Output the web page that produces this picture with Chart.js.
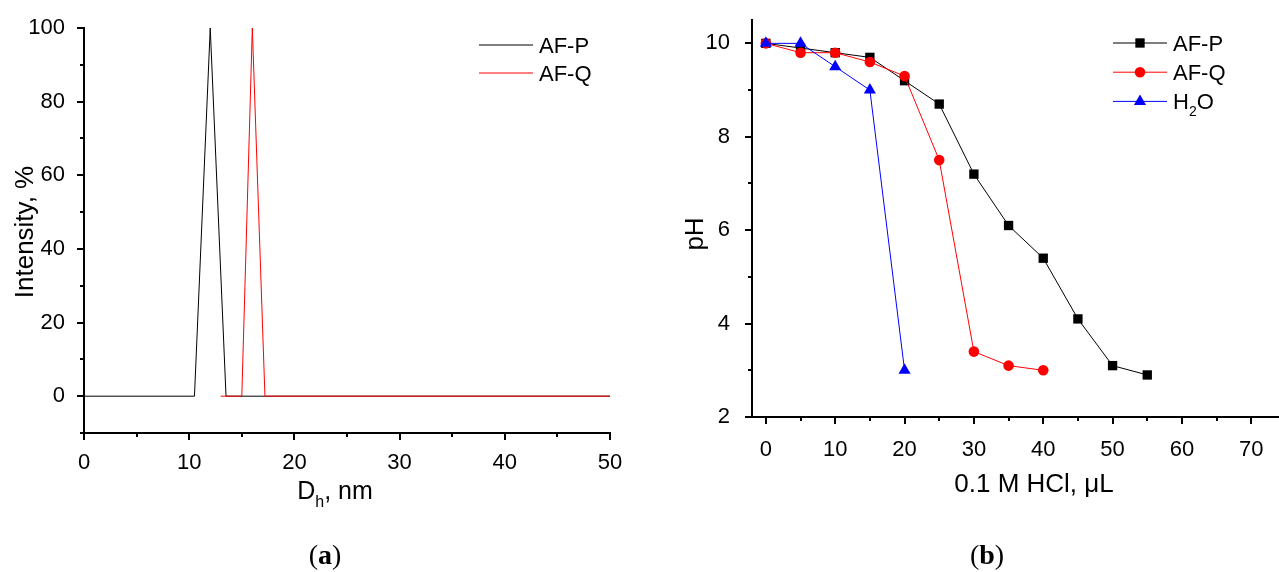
<!DOCTYPE html>
<html lang="en">
<head>
  <meta charset="UTF-8">
  <title>DLS and titration</title>
  <script src="https://cdn.jsdelivr.net/npm/chart.js"></script>
  <style>
    body { margin: 0; background: #fff; overflow: hidden; }
    canvas { position: absolute; top: 0; }
    #sizeChart { left: 0; }
    #phChart { left: 640px; }
  </style>
</head>
<body>
  <canvas id="sizeChart" width="640" height="572"></canvas>
  <canvas id="phChart" width="639" height="572"></canvas>

  <script>
    // (a) size distribution, D_h in nm vs intensity %
    const sizeAFP_x = [0, 10.5, 12, 13.5, 50];
    const sizeAFP_y = [0, 0, 100, 0, 0];
    const sizeAFQ_x = [13, 15, 16, 17.2, 50];
    const sizeAFQ_y = [0, 0, 100, 0, 0];
    const sizeXTicks = [0, 5, 10, 15, 20, 25, 30, 35, 40, 45, 50];
    const sizeYTicks = [-10, 0, 10, 20, 30, 40, 50, 60, 70, 80, 90, 100];

    // (b) titration with 0.1 M HCl
    const volAFP = [0, 5, 10, 15, 20, 25, 30, 35, 40, 45, 50, 55];
    const phAFP = [10.0, 9.9, 9.8, 9.7, 9.2, 8.7, 7.2, 6.1, 5.4, 4.1, 3.1, 2.9];
    const volAFQ = [0, 5, 10, 15, 20, 25, 30, 35, 40];
    const phAFQ = [10.0, 9.8, 9.8, 9.6, 9.3, 7.5, 3.4, 3.1, 3.0];
    const volH2O = [0, 5, 10, 15, 20];
    const phH2O = [10.0, 10.0, 9.5, 9.0, 3.0];
    const phXTicks = [0, 5, 10, 15, 20, 25, 30, 35, 40, 45, 50, 55, 60, 65, 70];
    const phYTicks = [2, 3, 4, 5, 6, 7, 8, 9, 10];

    const FONT = "'Liberation Sans', Arial, sans-serif";
    const toXY = (xs, ys) => xs.map((x, i) => ({ x: x, y: ys[i] }));

    // draw text made of parts, some of them subscript
    function drawParts(ctx, parts, x, y, size, align) {
      let total = 0;
      parts.forEach(p => {
        ctx.font = (p.sub ? Math.round(size * 0.65) : size) + 'px ' + FONT;
        total += ctx.measureText(p.t).width;
      });
      let cx = align === 'center' ? x - total / 2 : x;
      parts.forEach(p => {
        ctx.font = (p.sub ? Math.round(size * 0.65) : size) + 'px ' + FONT;
        ctx.fillText(p.t, cx, p.sub ? y + size * 0.3 : y);
        cx += ctx.measureText(p.t).width;
      });
    }

    // major ticks long, minor ticks short, both outside the axes
    const tickMarks = {
      id: 'tickMarks',
      afterDraw(chart) {
        const ctx = chart.ctx, a = chart.chartArea;
        const xs = chart.scales.x, ys = chart.scales.y;
        ctx.save();
        ctx.strokeStyle = '#000';
        ctx.lineWidth = 2;
        ctx.beginPath();
        xs.ticks.forEach(t => {
          const px = Math.round(xs.getPixelForValue(t.value));
          ctx.moveTo(px, a.bottom);
          ctx.lineTo(px, a.bottom + (t.label !== '' ? 7 : 4));
        });
        ys.ticks.forEach(t => {
          const py = Math.round(ys.getPixelForValue(t.value));
          ctx.moveTo(a.left, py);
          ctx.lineTo(a.left - (t.label !== '' ? 7 : 4), py);
        });
        ctx.stroke();
        ctx.restore();
      }
    };

    const decor = {
      id: 'decor',
      afterDraw(chart, args, opts) {
        const ctx = chart.ctx;
        ctx.save();
        ctx.fillStyle = '#000';
        ctx.textBaseline = 'alphabetic';
        // legend
        const lg = opts.legend;
        lg.items.forEach((it, i) => {
          const ds = chart.data.datasets[it.ds];
          const y = lg.y + i * lg.gap;
          ctx.strokeStyle = ds.borderColor;
          ctx.lineWidth = 1;
          ctx.beginPath();
          ctx.moveTo(lg.x, y);
          ctx.lineTo(lg.x + lg.len, y);
          ctx.stroke();
          if (ds.pointRadius > 0) {
            ctx.fillStyle = ds.backgroundColor;
            Chart.helpers.drawPoint(ctx, { pointStyle: ds.pointStyle, radius: ds.pointRadius, borderWidth: 0, rotation: 0 }, lg.x + lg.len / 2, y);
          }
          ctx.fillStyle = '#000';
          ctx.textAlign = 'left';
          drawParts(ctx, it.parts, lg.x + lg.len + 6, y + 22 * 0.36, 22, 'left');
        });
        // axis titles
        opts.titles.forEach(t => {
          ctx.save();
          ctx.translate(t.x, t.y);
          if (t.rotate) ctx.rotate(-Math.PI / 2);
          ctx.textAlign = 'left';
          drawParts(ctx, t.parts, 0, 0, t.size, 'center');
          ctx.restore();
        });
        // panel letter, bold letter inside plain brackets
        const p = opts.panel;
        const plain = '28px "Liberation Serif", serif';
        const bold = 'bold 28px "Liberation Serif", serif';
        ctx.font = plain;
        const w1 = ctx.measureText('(').width;
        ctx.font = bold;
        const w2 = ctx.measureText(p.letter).width;
        const px = p.x - (2 * w1 + w2) / 2;
        ctx.textAlign = 'left';
        ctx.font = plain;
        ctx.fillText('(', px, p.y);
        ctx.font = bold;
        ctx.fillText(p.letter, px + w1, p.y);
        ctx.font = plain;
        ctx.fillText(')', px + w1 + w2, p.y);
        ctx.restore();
      }
    };

    function axis(min, max, values, step, padding, fitKey, fitSize) {
      return {
        type: 'linear',
        min: min,
        max: max,
        bounds: 'data',
        grid: { display: false },
        border: { display: true, color: '#000', width: 2 },
        afterBuildTicks: s => { s.ticks = values.map(v => ({ value: v })); },
        afterFit: s => {
          s[fitKey] = fitSize;
          // plot box is set by layout padding only
          s.paddingTop = s.paddingBottom = s.paddingLeft = s.paddingRight = 0;
        },
        ticks: {
          autoSkip: false,
          maxRotation: 0,
          padding: padding,
          color: '#000',
          font: { family: FONT, size: 22 },
          callback: v => (Math.abs(v % step) < 1e-9 ? String(v) : '')
        }
      };
    }

    new Chart(document.getElementById('sizeChart'), {
      type: 'scatter',
      data: {
        datasets: [
          { label: 'AF-P', data: toXY(sizeAFP_x, sizeAFP_y), showLine: true, borderColor: '#000000', backgroundColor: '#000000', borderWidth: 1, pointRadius: 0, order: 2 },
          { label: 'AF-Q', data: toXY(sizeAFQ_x, sizeAFQ_y), showLine: true, borderColor: '#ff0000', backgroundColor: '#ff0000', borderWidth: 1, pointRadius: 0, order: 1 }
        ]
      },
      options: {
        responsive: false,
        animation: false,
        layout: { autoPadding: false, padding: { top: 28, right: 30, left: 0, bottom: 0 } },
        scales: {
          x: axis(0, 50, sizeXTicks, 10, 9, 'height', 139),
          y: axis(-10, 100, sizeYTicks, 20, 11, 'width', 84)
        },
        plugins: {
          legend: { display: false },
          tooltip: { enabled: false },
          decor: {
            legend: { x: 479, y: 45, gap: 28, len: 54, items: [
              { ds: 0, parts: [{ t: 'AF-P' }] },
              { ds: 1, parts: [{ t: 'AF-Q' }] }
            ] },
            titles: [
              { parts: [{ t: 'Intensity, %' }], x: 33, y: 232, size: 26, rotate: true },
              { parts: [{ t: 'D' }, { t: 'h', sub: true }, { t: ', nm' }], x: 335, y: 499, size: 25 }
            ],
            panel: { letter: 'a', x: 325, y: 564 }
          }
        }
      },
      plugins: [tickMarks, decor]
    });

    new Chart(document.getElementById('phChart'), {
      type: 'scatter',
      data: {
        datasets: [
          { label: 'AF-P', data: toXY(volAFP, phAFP), showLine: true, borderColor: '#000000', backgroundColor: '#000000', borderWidth: 1, pointStyle: 'rect', pointRadius: 6.6, pointBorderWidth: 0, order: 3 },
          { label: 'AF-Q', data: toXY(volAFQ, phAFQ), showLine: true, borderColor: '#ff0000', backgroundColor: '#ff0000', borderWidth: 1, pointStyle: 'circle', pointRadius: 5.3, pointBorderWidth: 0, order: 2 },
          { label: 'H2O', data: toXY(volH2O, phH2O), showLine: true, borderColor: '#0000ff', backgroundColor: '#0000ff', borderWidth: 1, pointStyle: 'triangle', pointRadius: 7, pointBorderWidth: 0, order: 1 }
        ]
      },
      options: {
        responsive: false,
        animation: false,
        // no auto padding for the markers: the x axis runs to the right edge
        layout: { autoPadding: false, padding: { top: 20, right: 0, left: 0, bottom: 0 } },
        scales: {
          x: axis(-2, 74, phXTicks, 10, 12, 'height', 155),
          y: axis(2, 10.5, phYTicks, 2, 14, 'width', 112)
        },
        plugins: {
          legend: { display: false },
          tooltip: { enabled: false },
          decor: {
            legend: { x: 473, y: 43, gap: 29.2, len: 54, items: [
              { ds: 0, parts: [{ t: 'AF-P' }] },
              { ds: 1, parts: [{ t: 'AF-Q' }] },
              { ds: 2, parts: [{ t: 'H' }, { t: '2', sub: true }, { t: 'O' }] }
            ] },
            titles: [
              { parts: [{ t: 'pH' }], x: 63, y: 234, size: 26, rotate: true },
              { parts: [{ t: '0.1 M HCl, \u03bcL' }], x: 394, y: 492, size: 26 }
            ],
            panel: { letter: 'b', x: 347, y: 564 }
          }
        }
      },
      plugins: [tickMarks, decor]
    });
  </script>
</body>
</html>
